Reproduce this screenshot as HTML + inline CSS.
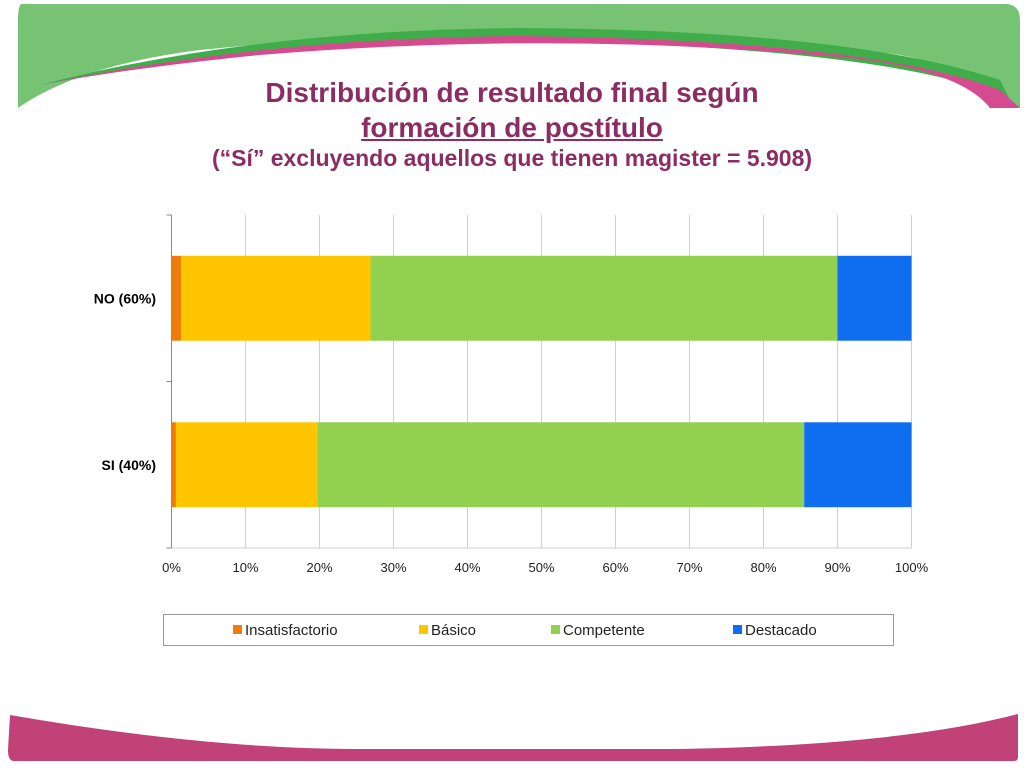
<!DOCTYPE html>
<html><head><meta charset="utf-8"><style>
body{margin:0;width:1024px;height:768px;background:#fff;overflow:hidden;position:relative;font-family:"Liberation Sans",sans-serif}
.t{position:absolute;left:0;width:1024px;text-align:center;color:#8b2c62;font-weight:bold;font-size:28px}
</style></head><body>
<svg width="1024" height="768" style="position:absolute;left:0;top:0">
<path d="M22,4 L1005,4 Q1020,4 1020,20 L1020,108 L990,108 Q980,70 900,55 Q600,10 200,50 Q80,65 18,108 L18,20 Q18,4 22,4Z" fill="#76c373"/>
<path d="M40,85 Q250,30 520,28 Q850,30 1000,80 L1010,100 Q900,48 520,40 Q240,45 40,85Z" fill="#3fae4a"/>
<path d="M40,85 Q260,38 520,36 Q870,40 1000,90 L1020,108 L990,108 Q960,70 850,58 Q560,30 260,55 Q130,68 40,85Z" fill="#d54b8f"/>
<path d="M10,715 Q200,748 350,749 L680,749 Q900,745 1018,714 L1018,757 Q1018,761 1014,761 L14,761 Q8,761 8,750Z" fill="#c04278"/>
</svg>
<div class="t" style="top:77px">Distribución de resultado final según</div>
<div class="t" style="top:112px;text-decoration:underline">formación de postítulo</div>
<div class="t" style="top:145px;font-size:23px">(“Sí” excluyendo aquellos que tienen magister = 5.908)</div>
<svg id="chart" width="1024" height="768" style="position:absolute;left:0;top:0"></svg>
<script>
const categories=["NO (60%)","SI (40%)"];
const seriesNames=["Insatisfactorio","Básico","Competente","Destacado"];
const insatisfactorio=[1.3,0.6];
const basico=[25.6,19.1];
const competente=[63.1,65.8];
const destacado=[10.0,14.5];
const ticks=["0%","10%","20%","30%","40%","50%","60%","70%","80%","90%","100%"];
const colors=["#f07c0a","#ffc600","#92d050","#0f6ef0"];
const NS="http://www.w3.org/2000/svg";
const svg=document.getElementById('chart');
const x0=171.5,x1=911.5,yT=215,yB=548;
const xs=v=>x0+(x1-x0)*v/100;
const band=(yB-yT)/categories.length;
function mk(t,a){const e=document.createElementNS(NS,t);for(const k in a)e.setAttribute(k,a[k]);svg.appendChild(e);return e;}
ticks.forEach((t,i)=>{const x=xs(i*10);
 const g=mk('line',{x1:x,x2:x,y1:yT,y2:yB,stroke:i==0?'#888':'#d0d0d0','stroke-width':1});
 
 const tx=mk('text',{x:x,y:572,'text-anchor':'middle','font-size':13,fill:'#222'});
 tx.textContent=t;});
mk('line',{x1:x0,x2:x1,y1:yB,y2:yB,stroke:'#d0d0d0'});
for(let i=0;i<=categories.length;i++){const y=yT+band*i;mk('line',{x1:x0-5,x2:x0,y1:y,y2:y,stroke:'#888'});}
const series=[insatisfactorio,basico,competente,destacado];
categories.forEach((c,i)=>{let acc=0;const yc=yT+band*(i+0.5);const h=band*0.51;
 series.forEach((s,j)=>{const r=mk('rect',{x:xs(acc),y:yc-h/2,width:xs(acc+s[i])-xs(acc),height:h,fill:colors[j]});
  acc+=s[i];});
 const l=mk('text',{x:156,y:yc+5,'text-anchor':'end','font-size':14,'font-weight':'bold',fill:'#000'});
 l.textContent=c;});
const lg=mk('rect',{x:163.5,y:614.5,width:730,height:31,fill:'#fff',stroke:'#999'});

const lx=[233,419,551,733];
seriesNames.forEach((n,j)=>{mk('rect',{x:lx[j],y:625,width:9,height:9,fill:colors[j]});
 const t=mk('text',{x:lx[j]+12,y:635,'font-size':15,fill:'#222'});
 t.textContent=n;});
</script>
</body></html>
